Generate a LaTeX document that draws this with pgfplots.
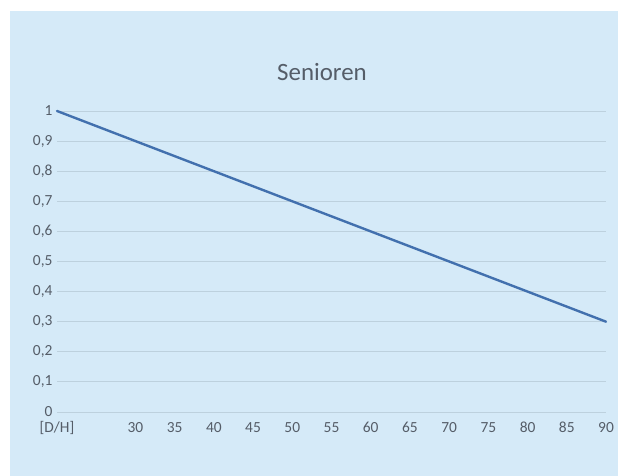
\documentclass[border=0pt]{standalone}
\usepackage{pgfplots}
\pgfplotsset{compat=1.18}
\usepackage{fontspec}
\setmainfont{Carlito}
\definecolor{bgblue}{HTML}{D5EAF8}
\definecolor{gridc}{HTML}{BDD1DE}
\definecolor{txt}{HTML}{555D68}
\definecolor{linec}{HTML}{4270AE}
\begin{document}
\begin{tikzpicture}[x=1bp,y=1bp]
\fill[white] (0,0) rectangle (625,476);
\fill[bgblue] (10,0) rectangle (618,465);
\node[text=txt,font=\fontsize{25}{28}\selectfont] at (322,404) {Senioren};
\begin{axis}[
  at={(57bp,64bp)}, anchor=south west,
  scale only axis, width=549bp, height=301bp,
  xmin=20, xmax=90, ymin=0, ymax=1,
  clip=false,
  axis line style={draw=none},
  major tick length=0pt,
  ymajorgrids, grid style={gridc, line width=0.8pt},
  xtick={20,30,35,40,45,50,55,60,65,70,75,80,85,90},
  xticklabels={{[D/H]},30,35,40,45,50,55,60,65,70,75,80,85,90},
  ytick={0,0.1,0.2,0.3,0.4,0.5,0.6,0.7,0.8,0.9,1},
  yticklabel style={/pgf/number format/use comma, /pgf/number format/fixed, /pgf/number format/precision=1, xshift=-1bp},
  /pgf/number format/assume math mode=true,
  tick label style={text=txt, font=\fontsize{15.5}{17}\selectfont},
  xticklabel style={anchor=base, yshift=-21bp},
]
\addplot[linec, line width=2.4pt, line cap=round, mark=none] coordinates {
 (20,1) (30,0.9) (35,0.85) (40,0.8) (45,0.75) (50,0.7) (55,0.65) (60,0.6)
 (65,0.55) (70,0.5) (75,0.45) (80,0.4) (85,0.35) (90,0.3)
};
\end{axis}
\end{tikzpicture}
\end{document}
